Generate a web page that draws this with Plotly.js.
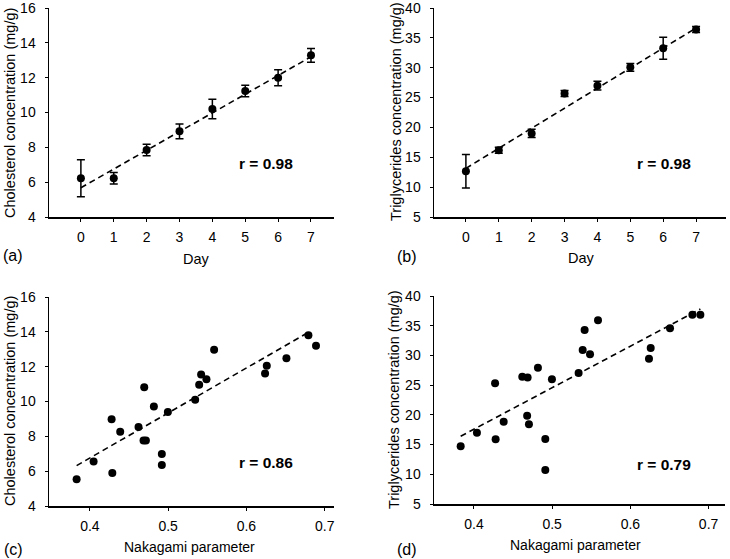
<!DOCTYPE html>
<html>
<head>
<meta charset="utf-8">
<script src="https://cdn.plot.ly/plotly-3.0.1.min.js"></script>
<style>html,body{margin:0;padding:0;background:#fff;}#chart{width:730px;height:559px;}</style>
</head>
<body>
<div id="chart"></div>
<script>
// ---- Data ----
const days = [0, 1, 2, 3, 4, 5, 6, 7];
const cholMean = [6.22, 6.22, 7.85, 8.92, 10.2, 11.23, 12.0, 13.28];
const cholErr  = [1.06, 0.33, 0.33, 0.42, 0.56, 0.33, 0.46, 0.40];
const trigMean = [12.65, 16.17, 19.0, 25.7, 27.0, 30.07, 33.25, 36.4];
const trigErr  = [2.8, 0.5, 0.7, 0.5, 0.75, 0.65, 1.85, 0.5];
const fitA_x = [0, 7];
const fitA_y = [5.68, 13.2];
const fitB_x = [0, 7];
const fitB_y = [13.15, 36.65];

const nakC = [0.383, 0.4047, 0.4277, 0.4286, 0.4387, 0.4621, 0.4685, 0.4715, 0.4694, 0.4817, 0.4919, 0.4919, 0.4996, 0.5345, 0.5396, 0.5421, 0.5489, 0.5587, 0.6238, 0.626, 0.6511, 0.6792, 0.6889];
const cholC = [5.53, 6.55, 8.98, 5.9, 8.27, 8.54, 7.76, 7.76, 10.82, 9.71, 6.99, 6.36, 9.39, 10.1, 10.96, 11.55, 11.28, 12.97, 11.61, 12.05, 12.49, 13.8, 13.2];
const fitC_x = [0.383, 0.68];
const fitC_y = [6.32, 13.99];

const nakD = [0.383, 0.4038, 0.4277, 0.427, 0.438, 0.4618, 0.4686, 0.468, 0.4703, 0.4818, 0.4912, 0.4912, 0.4997, 0.5338, 0.539, 0.5415, 0.5484, 0.5586, 0.6238, 0.626, 0.6507, 0.6793, 0.6895];
const trigD = [14.7, 17.0, 15.9, 25.3, 18.85, 26.4, 26.3, 19.86, 18.4, 27.94, 15.94, 10.72, 25.98, 27.04, 30.91, 34.28, 30.18, 35.9, 29.45, 31.25, 34.56, 36.86, 36.86];
const fitD_x = [0.383, 0.6895];
const fitD_y = [16.4, 37.8];

const dayTicks = [0, 1, 2, 3, 4, 5, 6, 7];
const nakTicks = [0.4, 0.5, 0.6, 0.7];
const cholTicks = [4, 6, 8, 10, 12, 14, 16];
const trigTicks = [5, 10, 15, 20, 25, 30, 35, 40];
const rLabels = ['r = 0.98', 'r = 0.98', 'r = 0.86', 'r = 0.79'];
const panelLabels = ['(a)', '(b)', '(c)', '(d)'];
const yTitles = ['Cholesterol concentration (mg/g)', 'Triglycerides concentration (mg/g)', 'Cholesterol concentration (mg/g)', 'Triglycerides concentration (mg/g)'];
const xTitles = ['Day', 'Day', 'Nakagami parameter', 'Nakagami parameter'];

// ---- Helpers ----
const W = 730, H = 559;
const px = v => v / W;
const py = v => 1 - v / H;
const FONT = 'Liberation Sans, Arial, sans-serif';

const marker = {color: '#000', size: 8};
const dashLine = {color: '#000', width: 1.6, dash: '6px,4px'};
function errBar(arr) { return {type: 'data', array: arr, visible: true, color: '#000', thickness: 1.5, width: 4}; }

const traces = [
  {x: fitA_x, y: fitA_y, mode: 'lines', line: dashLine, xaxis: 'x', yaxis: 'y', hoverinfo: 'skip'},
  {x: days, y: cholMean, mode: 'markers', marker: marker, error_y: errBar(cholErr), xaxis: 'x', yaxis: 'y'},
  {x: fitB_x, y: fitB_y, mode: 'lines', line: dashLine, xaxis: 'x2', yaxis: 'y2', hoverinfo: 'skip'},
  {x: days, y: trigMean, mode: 'markers', marker: marker, error_y: errBar(trigErr), xaxis: 'x2', yaxis: 'y2'},
  {x: fitC_x, y: fitC_y, mode: 'lines', line: dashLine, xaxis: 'x3', yaxis: 'y3', hoverinfo: 'skip'},
  {x: nakC, y: cholC, mode: 'markers', marker: marker, xaxis: 'x3', yaxis: 'y3'},
  {x: fitD_x, y: fitD_y, mode: 'lines', line: dashLine, xaxis: 'x4', yaxis: 'y4', hoverinfo: 'skip'},
  {x: nakD, y: trigD, mode: 'markers', marker: marker, xaxis: 'x4', yaxis: 'y4'}
];

function xAxis(domain, range, tickvals, anchor, fmt) {
  return {domain: domain, range: range, anchor: anchor, tickvals: tickvals, tickformat: fmt,
    showline: true, linewidth: 1.5, linecolor: '#000', showgrid: false, zeroline: false,
    ticks: 'outside', ticklen: 3, tickwidth: 1, tickcolor: '#000', ticklabelstandoff: 4,
    ticklabeloverflow: 'allow',
    tickfont: {family: FONT, size: 14, color: '#000'}, fixedrange: true};
}
function yAxis(domain, range, tickvals, anchor) {
  return {domain: domain, range: range, anchor: anchor, tickvals: tickvals,
    showline: true, linewidth: 1.5, linecolor: '#000', showgrid: false, zeroline: false,
    ticks: 'outside', ticklen: 3, tickwidth: 1, tickcolor: '#000', ticklabelstandoff: 6,
    ticklabeloverflow: 'allow',
    tickfont: {family: FONT, size: 14, color: '#000'}, fixedrange: true};
}

const dA = {x: [px(49), px(334)], y: [py(217), py(8)]};
const dB = {x: [px(434), px(726)], y: [py(217), py(8)]};
const dC = {x: [px(49), px(334)], y: [py(506), py(297)]};
const dD = {x: [px(434), px(725)], y: [py(504), py(296)]};

const ann = [];
function addText(text, x, y, size, opts) {
  ann.push(Object.assign({text: text, x: px(x), y: py(y), xref: 'paper', yref: 'paper',
    xanchor: 'center', yanchor: 'middle', showarrow: false,
    font: {family: FONT, size: size, color: '#000'}}, opts || {}));
}
// panel letters
addText(panelLabels[0], 13, 255, 16);
addText(panelLabels[1], 407, 256, 16);
addText(panelLabels[2], 13, 549, 16);
addText(panelLabels[3], 407, 549, 16);
// r labels
addText('<b>' + rLabels[0] + '</b>', 266, 163, 15.5);
addText('<b>' + rLabels[1] + '</b>', 664, 163, 15.5);
addText('<b>' + rLabels[2] + '</b>', 266, 462, 15.5);
addText('<b>' + rLabels[3] + '</b>', 664, 464, 15.5);
// axis titles
addText(xTitles[0], 196, 259, 14.5);
addText(xTitles[1], 581, 258, 14.5);
addText(xTitles[2], 189, 547, 14);
addText(xTitles[3], 575, 545, 14);
addText(yTitles[0], 10, 113, 14.5, {textangle: -90});
addText(yTitles[1], 396, 112, 14.5, {textangle: -90});
addText(yTitles[2], 10, 401, 14.5, {textangle: -90});
addText(yTitles[3], 394, 400, 14.5, {textangle: -90});

const layout = {
  width: W, height: H, margin: {l: 0, r: 0, t: 0, b: 0},
  paper_bgcolor: '#fff', plot_bgcolor: 'rgba(0,0,0,0)', showlegend: false,
  font: {family: FONT, color: '#000'},
  xaxis: xAxis(dA.x, [-0.97, 7.7], dayTicks, 'y'),
  yaxis: yAxis(dA.y, [4, 16], cholTicks, 'x'),
  xaxis2: xAxis(dB.x, [-0.97, 7.91], dayTicks, 'y2'),
  yaxis2: yAxis(dB.y, [5, 40], trigTicks, 'x2'),
  xaxis3: xAxis(dC.x, [0.3477, 0.7119], nakTicks, 'y3', '.1f'),
  yaxis3: yAxis(dC.y, [4, 16], cholTicks, 'x3'),
  xaxis4: xAxis(dD.x, [0.3489, 0.721], nakTicks, 'y4', '.1f'),
  yaxis4: yAxis(dD.y, [5, 40], trigTicks, 'x4'),
  annotations: ann
};

Plotly.newPlot('chart', traces, layout, {displayModeBar: false, staticPlot: true});
</script>
</body>
</html>
